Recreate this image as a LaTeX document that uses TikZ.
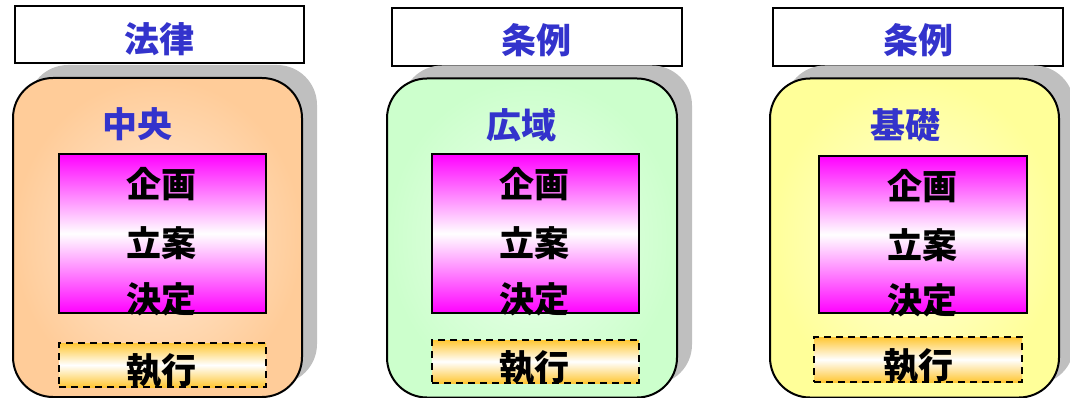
\documentclass[tikz,border=0pt]{standalone}
\usepackage{fontspec}
\setmainfont{Noto Sans CJK JP}
\usetikzlibrary{shadows}
\definecolor{titleblue}{rgb}{0.2, 0.2, 0.8}
\definecolor{peach}{rgb}{1, 0.8, 0.6}
\definecolor{peachlight}{rgb}{1, 0.92, 0.84}
\definecolor{mint}{rgb}{0.8, 1, 0.8}
\definecolor{mintlight}{rgb}{0.93, 1, 0.93}
\definecolor{lemon}{rgb}{1, 1, 0.6}
\definecolor{lemonlight}{rgb}{1, 1, 0.85}
\definecolor{gold}{rgb}{1, 0.78, 0.2}
\tikzstyle{titlebox}=[draw,line width=2.4pt,fill=white,inner sep=0pt,minimum width=289pt,minimum height=57pt]
\tikzstyle{levelbox}=[draw,line width=2pt,rounded corners=40pt,inner sep=0pt,minimum width=289pt,minimum height=319pt,
  drop shadow={shadow xshift=15pt,shadow yshift=13pt,fill=black!25,opacity=1}]
\tikzstyle{planbox}=[draw,line width=1.5pt,inner sep=0pt,minimum width=207pt,minimum height=159pt,
  top color=magenta,bottom color=magenta,middle color=white]
\tikzstyle{runbox}=[draw,line width=1.8pt,dash pattern=on 7pt off 5pt,inner sep=0pt,minimum width=207pt,minimum height=44pt,
  top color=gold,bottom color=gold,middle color=white]
\tikzstyle{bluetext}=[text=titleblue,font=\fontsize{35}{35}\selectfont\bfseries,inner sep=0pt]
\tikzstyle{blacktext}=[text=black,font=\fontsize{35}{35}\selectfont\bfseries,inner sep=0pt]

\begin{document}
\begin{tikzpicture}[x=1pt,y=-1pt]
\useasboundingbox (0,0) rectangle (1070,398);

  % 中央
  \node[titlebox] (law) at (159.5,34.5) {};
  \node[bluetext] (lawtext) at (159.5,39) {法律};
  \node[levelbox,inner color=peachlight,outer color=peach] (central) at (157.5,237.5) {};
  \node[bluetext] (centraltext) at (137,124) {中央};
  \node[planbox] (plan1) at (162.5,233.5) {};
  \node[blacktext] (kikaku1) at (161.5,184) {企画};
  \node[blacktext] (ritsuan1) at (161.5,243) {立案};
  \node[blacktext] (kettei1) at (161.5,299) {決定};
  \node[runbox] (run1) at (162.5,365) {};
  \node[blacktext] (shikko1) at (161.5,371) {執行};

  % 広域
  \node[titlebox,minimum width=290pt,minimum height=58pt] (ord1) at (537,37) {};
  \node[bluetext] (ord1text) at (536,40) {条例};
  \node[levelbox,minimum width=290pt,inner color=mintlight,outer color=mint] (regional) at (532,238) {};
  \node[bluetext] (regionaltext) at (521.5,125) {広域};
  \node[planbox] (plan2) at (535.5,233.5) {};
  \node[blacktext] (kikaku2) at (534,184) {企画};
  \node[blacktext] (ritsuan2) at (534,243) {立案};
  \node[blacktext] (kettei2) at (534,299) {決定};
  \node[runbox,minimum height=43pt] (run2) at (535.5,361.5) {};
  \node[blacktext] (shikko2) at (534,368) {執行};

  % 基礎
  \node[titlebox,minimum width=290pt,minimum height=58pt] (ord2) at (918,37) {};
  \node[bluetext] (ord2text) at (918,40) {条例};
  \node[levelbox,inner color=lemonlight,outer color=lemon] (local) at (914.5,238) {};
  \node[bluetext] (localtext) at (905.5,125) {基礎};
  \node[planbox,minimum width=208pt,minimum height=157pt] (plan3) at (923,234.5) {};
  \node[blacktext] (kikaku3) at (922,186) {企画};
  \node[blacktext] (ritsuan3) at (922,245) {立案};
  \node[blacktext] (kettei3) at (922,300) {決定};
  \node[runbox,minimum width=208pt,minimum height=45pt] (run3) at (918,359.5) {};
  \node[blacktext] (shikko3) at (918,366) {執行};

\end{tikzpicture}
\end{document}
